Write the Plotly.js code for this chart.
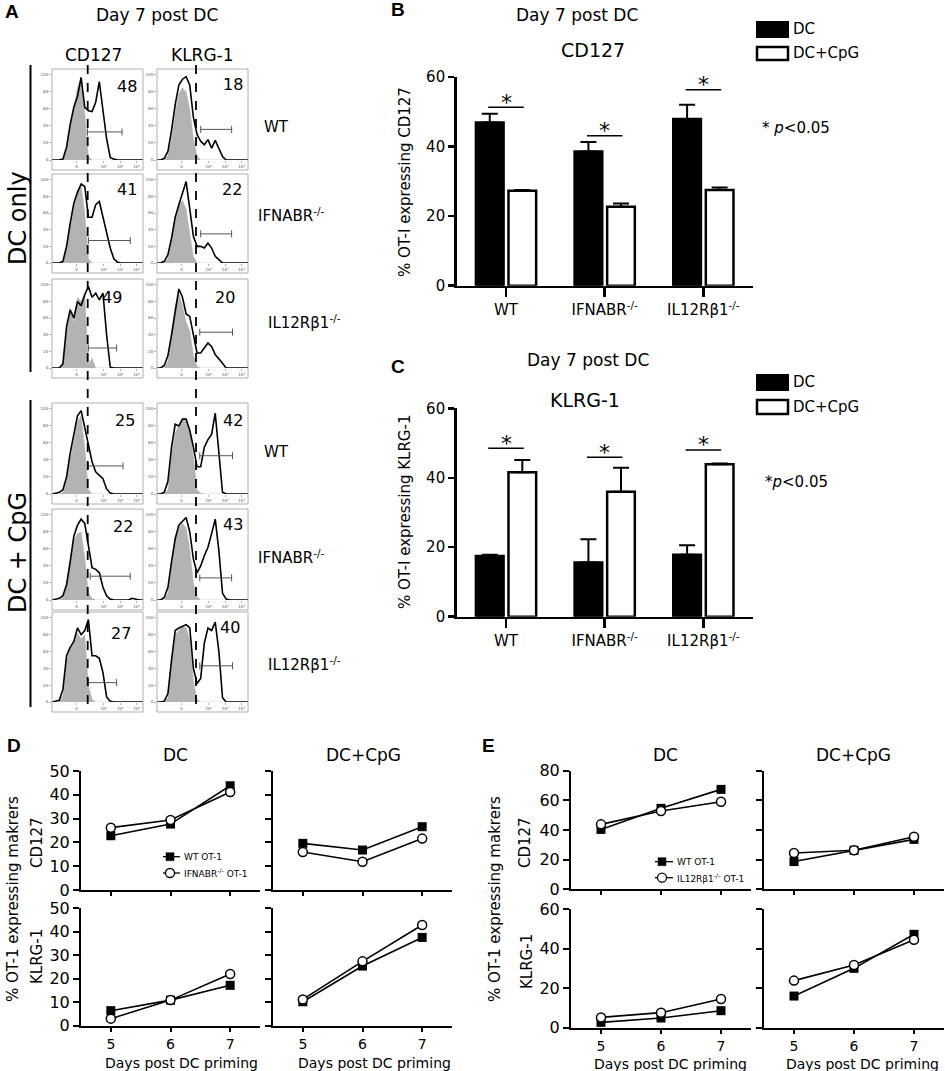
<!DOCTYPE html>
<html>
<head>
<meta charset="utf-8">
<script src="https://cdn.plot.ly/plotly-3.0.1.min.js"></script>
<style>
  html, body { margin: 0; padding: 0; background: #fff; }
  #fig { width: 945px; height: 1071px; }
</style>
</head>
<body>
<div id="fig"></div>
<script>
/* ---------- data ---------- */

// panel A: histogram channel positions (0-100 across each box)
var chan = [0,4,8,12,16,20,24,28,32,36,40,44,48,52,56,60,64,68,72,76,80,84,88,92,96,100];

// DC only (black = stained, grey = control)
var dcWtCd127      = [0,0,0,1,15,42,62,75,97,62,58,57,68,92,60,25,3,1,0,0,0,0,0,0,0,0];
var dcWtCd127Ctl   = [0,0,0,1,16,40,60,85,97,55,4,0,0,0,0,0,0,0,0,0,0,0,0,0,0,0];
var dcWtKlrg       = [0,0,2,10,35,65,88,95,98,88,50,30,22,18,24,14,23,14,4,0,0,0,0,0,0,0];
var dcWtKlrgCtl    = [0,0,0,5,25,55,78,85,80,60,25,5,0,0,0,0,0,0,0,0,0,0,0,0,0,0];
var dcIfnCd127     = [0,0,0,2,20,48,72,85,95,92,55,55,70,74,55,35,18,5,1,0,0,0,0,0,0,0];
var dcIfnCd127Ctl  = [0,0,0,2,20,45,70,88,93,60,5,0,0,0,0,0,0,0,0,0,0,0,0,0,0,0];
var dcIfnKlrg      = [0,0,2,10,30,55,70,85,98,65,32,20,20,18,24,18,8,4,0,0,0,0,0,0,0,0];
var dcIfnKlrgCtl   = [0,0,0,5,25,50,70,75,65,35,8,0,0,0,0,0,0,0,0,0,0,0,0,0,0,0];
var dcIl12Cd127    = [0,0,0,5,50,70,60,80,75,88,98,85,90,82,90,40,1,0,0,0,0,0,0,0,0,0];
var dcIl12Cd127Ctl = [0,0,0,5,45,70,55,85,80,90,4,12,0,0,0,0,0,0,0,0,0,0,0,0,0,0];
var dcIl12Klrg     = [0,0,3,15,40,70,95,85,65,62,40,18,18,24,30,26,16,11,5,0,0,0,0,0,0,0];
var dcIl12KlrgCtl  = [0,0,0,8,40,75,90,75,55,45,15,2,0,0,0,0,0,0,0,0,0,0,0,0,0,0];

// DC + CpG
var cpgWtCd127      = [0,1,2,5,20,48,68,92,98,78,62,38,26,22,18,6,1,0,0,0,0,0,0,0,0,0];
var cpgWtCd127Ctl   = [0,0,0,2,15,40,62,85,92,55,5,0,0,0,0,0,0,0,0,0,0,0,0,0,0,0];
var cpgWtKlrg       = [0,0,2,15,55,82,80,88,88,75,55,32,32,55,64,70,95,45,2,0,0,0,0,0,0,0];
var cpgWtKlrgCtl    = [0,0,0,5,45,72,80,88,85,75,45,5,1,0,0,0,0,0,0,0,0,0,0,0,0,0];
var cpgIfnCd127     = [0,1,2,5,18,45,75,88,95,90,62,38,36,32,15,5,1,0,0,0,0,0,2,1,0,0];
var cpgIfnCd127Ctl  = [0,0,0,3,20,45,70,78,80,50,8,2,0,0,0,0,0,0,0,0,0,0,0,0,0,0];
var cpgIfnKlrg      = [0,0,3,15,45,72,88,92,97,80,48,32,40,52,62,78,95,58,8,1,0,0,0,0,0,0];
var cpgIfnKlrgCtl   = [0,0,0,8,45,75,85,90,85,60,20,4,0,0,0,0,0,0,0,0,0,0,0,0,0,0];
var cpgIl12Cd127    = [0,1,2,15,55,65,72,88,80,85,98,55,55,52,35,6,1,0,0,0,0,0,0,0,0,0];
var cpgIl12Cd127Ctl = [0,0,0,8,50,62,70,82,75,80,20,3,0,0,0,0,0,0,0,0,0,0,0,0,0,0];
var cpgIl12Klrg     = [0,0,1,10,50,85,88,90,92,88,40,22,28,70,88,85,95,60,5,0,0,0,0,0,0,0];
var cpgIl12KlrgCtl  = [0,0,0,5,45,80,85,90,88,75,25,3,0,0,0,0,0,0,0,0,0,0,0,0,0,0];

// gates and their percentages (row by row, CD127 then KLRG-1)
var gateStart = [39,48,40,48,40,47,40,47,42,47,40,47];
var gateEnd   = [77,82,86,82,71,83,78,83,86,82,71,83];
var gateLevel = [33,36,27,35,24,43,33,45,28,26,23,43];
var gatePct   = ['48','18','41','22','49','20','25','42','22','43','27','40'];

// panels B and C
var strains = ['WT', 'IFNABR<sup>-/-</sup>', 'IL12Rβ1<sup>-/-</sup>'];
var cd127Dc     = [46.9, 38.6, 47.9];
var cd127DcErr  = [2.5, 2.7, 4.1];
var cd127Cpg    = [27.3, 22.7, 27.5];
var cd127CpgErr = [0.2, 0.9, 0.7];
var klrgDc      = [17.5, 15.6, 17.8];
var klrgDcErr   = [0.3, 6.7, 2.8];
var klrgCpg     = [41.6, 36.0, 43.9];
var klrgCpgErr  = [3.5, 6.9, 0.2];

// panels D and E
var days = [5, 6, 7];
var dDcCd127Wt   = [22.8, 27.7, 43.8];
var dDcCd127Ko   = [26.2, 29.4, 41.2];
var dCpgCd127Wt  = [19.6, 16.8, 26.6];
var dCpgCd127Ko  = [16.0, 11.9, 21.6];
var dDcKlrgWt    = [6.4, 10.9, 17.2];
var dDcKlrgKo    = [3.0, 10.9, 22.0];
var dCpgKlrgWt   = [10.2, 25.4, 37.6];
var dCpgKlrgKo   = [11.2, 27.4, 42.9];

var eDcCd127Wt   = [40.4, 54.6, 67.4];
var eDcCd127Ko   = [43.8, 52.8, 59.1];
var eCpgCd127Wt  = [18.7, 26.3, 33.7];
var eCpgCd127Ko  = [24.5, 26.3, 35.5];
var eDcKlrgWt    = [2.7, 4.9, 8.6];
var eDcKlrgKo    = [5.2, 7.6, 14.5];
var eCpgKlrgWt   = [16.0, 30.0, 47.2];
var eCpgKlrgKo   = [23.8, 31.7, 44.4];

/* ---------- helpers ---------- */
var W = 945, H = 1071;
function px(x) { return x / W; }
function py(y) { return 1 - y / H; }
function ax(n) { return n === 1 ? '' : String(n); }

var FONT = 'DejaVu Sans';
var data = [];
var layout = {
  width: W, height: H, autosize: false,
  margin: {l: 0, r: 0, t: 0, b: 0},
  paper_bgcolor: '#fff', plot_bgcolor: '#fff',
  showlegend: false,
  barmode: 'group', bargap: 0.34, bargroupgap: 0.15,
  font: {family: FONT, color: '#000'},
  shapes: [], annotations: []
};

// text placed by its centre, in picture pixels
function note(text, x, y, size, extra) {
  var a = {text: text, x: px(x), y: py(y), xref: 'paper', yref: 'paper',
           xanchor: 'center', yanchor: 'middle', showarrow: false,
           font: {family: FONT, size: size, color: '#000'}};
  for (var k in extra) a[k] = extra[k];
  layout.annotations.push(a);
}
function pline(x0, y0, x1, y1, w, dash) {
  layout.shapes.push({type: 'line', xref: 'paper', yref: 'paper',
    x0: px(x0), y0: py(y0), x1: px(x1), y1: py(y1),
    line: {color: '#000', width: w, dash: dash || 'solid'}});
}
function prect(x0, y0, x1, y1, fill, w, col) {
  layout.shapes.push({type: 'rect', xref: 'paper', yref: 'paper',
    x0: px(x0), y0: py(y0), x1: px(x1), y1: py(y1),
    fillcolor: fill, line: {color: col || '#000', width: w}});
}
function letter(t, x, y) {
  note('<b>' + t + '</b>', x, y, 19, {font: {family: 'Liberation Sans', size: 19, color: '#000'}});
}

/* ---------- panel A ---------- */
var hists = [
  [dcWtCd127, dcWtCd127Ctl], [dcWtKlrg, dcWtKlrgCtl],
  [dcIfnCd127, dcIfnCd127Ctl], [dcIfnKlrg, dcIfnKlrgCtl],
  [dcIl12Cd127, dcIl12Cd127Ctl], [dcIl12Klrg, dcIl12KlrgCtl],
  [cpgWtCd127, cpgWtCd127Ctl], [cpgWtKlrg, cpgWtKlrgCtl],
  [cpgIfnCd127, cpgIfnCd127Ctl], [cpgIfnKlrg, cpgIfnKlrgCtl],
  [cpgIl12Cd127, cpgIl12Cd127Ctl], [cpgIl12Klrg, cpgIl12KlrgCtl]
];
var rowBase = [160, 263, 368, 494, 600, 702];
var rowTop  = [69, 174, 279, 403, 509, 612];
var colLeft = [52, 157], colRight = [143, 248];
var pctX = [82, 83, 82, 82, 66, 75, 80, 84, 78, 83, 76, 80];
var pctY = [87, 89, 88, 88, 85, 85, 87, 87, 86, 89, 82, 88];

hists.forEach(function (h, k) {
  var n = k + 1, r = Math.floor(k / 2), c = k % 2;
  var xa = 'x' + ax(n), ya = 'y' + ax(n);
  layout['xaxis' + ax(n)] = {
    domain: [px(colLeft[c]), px(colRight[c])], range: [0, 100], anchor: ya,
    showgrid: false, zeroline: false, showline: false, fixedrange: true,
    ticks: 'outside', ticklen: 2, tickwidth: 0.6, tickcolor: '#777',
    tickvals: [27, 57, 75, 93], ticktext: ['0', '10³', '10⁴', '10⁵'],
    tickfont: {size: 4, color: '#555'}
  };
  layout['yaxis' + ax(n)] = {
    domain: [py(rowBase[r]), py(rowTop[r])], range: [0, 107], anchor: xa,
    showgrid: false, zeroline: false, showline: false, fixedrange: true,
    ticks: 'outside', ticklen: 2, tickwidth: 0.6, tickcolor: '#777',
    tickvals: [0, 20, 40, 60, 80, 100], tickfont: {size: 4, color: '#555'}
  };
  data.push({x: chan, y: h[1], xaxis: xa, yaxis: ya, mode: 'lines',
    fill: 'tozeroy', fillcolor: '#b3b3b3', line: {color: '#b3b3b3', width: 0.5}});
  data.push({x: chan, y: h[0], xaxis: xa, yaxis: ya, mode: 'lines',
    line: {color: '#000', width: 1.6}});
  data.push({x: [gateStart[k], gateEnd[k]], y: [gateLevel[k], gateLevel[k]],
    xaxis: xa, yaxis: ya, mode: 'lines+markers',
    line: {color: '#555', width: 1},
    marker: {symbol: 'line-ns-open', size: 5, line: {color: '#555', width: 1}}});
  layout.annotations.push({text: gatePct[k], x: pctX[k], y: pctY[k], xref: xa, yref: ya,
    xanchor: 'center', yanchor: 'middle',
    showarrow: false, font: {family: FONT, size: 16, color: '#000'}});
  prect(colLeft[c], rowTop[r], colRight[c], rowBase[r] + 10, 'rgba(0,0,0,0)', 0.8, '#999');
});

letter('A', 12, 12);
note('Day 7 post DC', 157, 15, 17);
note('CD127', 93, 55, 17);
note('KLRG-1', 202, 55, 17);
note('DC only', 18, 218, 24, {textangle: -90});
note('DC + CpG', 18, 553, 24, {textangle: -90});
pline(30.5, 65, 30.5, 372, 2);
pline(30.5, 400, 30.5, 707, 2);
pline(87.7, 65, 87.7, 707, 1.8, 'dash');
pline(196, 65, 196, 707, 1.8, 'dash');
var rowNames = ['WT', 'IFNABR<sup>-/-</sup>', 'IL12Rβ1<sup>-/-</sup>'];
var rowNameX = [262, 256, 266];
var rowNameY = [127, 215, 322, 452, 557, 664];
rowNameY.forEach(function (y, i) {
  note(rowNames[i % 3], rowNameX[i % 3], y, 15, {xanchor: 'left'});
});

/* ---------- panels B and C ---------- */
function barPanel(n, top, base, dc, dcErr, cpg, cpgErr, sigY) {
  var xa = 'x' + n, ya = 'y' + n;
  layout['xaxis' + n] = {
    domain: [px(456.7), px(752.7)], range: [-0.5, 2.5], anchor: ya, type: 'category',
    showline: true, linewidth: 2.5, linecolor: '#000', showgrid: false, zeroline: false,
    ticks: 'outside', ticklen: 9, tickwidth: 2.5, tickcolor: '#000',
    tickfont: {family: FONT, size: 15}, fixedrange: true
  };
  layout['yaxis' + n] = {
    domain: [py(base), py(top)], range: [0, 60], anchor: xa, tickvals: [0, 20, 40, 60],
    showline: true, linewidth: 2.5, linecolor: '#000', showgrid: false, zeroline: false,
    ticks: 'outside', ticklen: 6, tickwidth: 2.5, tickcolor: '#000',
    tickfont: {family: FONT, size: 15}, fixedrange: true
  };
  var zeros = [0, 0, 0];
  data.push({type: 'bar', x: strains, y: dc, xaxis: xa, yaxis: ya,
    marker: {color: '#000', line: {color: '#000', width: 2.5}},
    error_y: {type: 'data', symmetric: false, array: dcErr, arrayminus: zeros,
              color: '#000', thickness: 2, width: 8}});
  data.push({type: 'bar', x: strains, y: cpg, xaxis: xa, yaxis: ya,
    marker: {color: '#fff', line: {color: '#000', width: 2.5}},
    error_y: {type: 'data', symmetric: false, array: cpgErr, arrayminus: zeros,
              color: '#000', thickness: 2, width: 8}});
  sigY.forEach(function (y, i) {
    layout.shapes.push({type: 'line', xref: xa, yref: ya, x0: i - 0.18, x1: i + 0.18,
      y0: y, y1: y, line: {color: '#000', width: 1.5}});
    layout.annotations.push({text: '*', x: i, y: y, xref: xa, yref: ya, showarrow: false,
      xanchor: 'center', yanchor: 'middle', yshift: 5,
      font: {family: FONT, size: 22, color: '#000'}});
  });
}
barPanel(13, 77, 285.7, cd127Dc, cd127DcErr, cd127Cpg, cd127CpgErr, [51.3, 43.1, 56.3]);
barPanel(14, 408.3, 616.7, klrgDc, klrgDcErr, klrgCpg, klrgCpgErr, [48.5, 45.9, 48.0]);

letter('B', 398, 10);
note('Day 7 post DC', 577, 15, 17);
note('CD127', 593, 50, 19);
note('% OT-I expressing CD127', 405, 182, 15, {textangle: -90});
prect(757, 22, 788, 37, '#000', 2);
prect(757, 47, 788, 60, '#fff', 2.5);
note('DC', 791, 29, 15, {xanchor: 'left'});
note('DC+CpG', 791, 53, 15, {xanchor: 'left'});
note('* <i>p</i>&lt;0.05', 760, 128, 15, {xanchor: 'left'});

letter('C', 398, 366);
note('Day 7 post DC', 588, 360, 17);
note('KLRG-1', 585, 400, 19);
note('% OT-I expressing KLRG-1', 405, 512, 15, {textangle: -90});
prect(757, 375, 788, 390, '#000', 2);
prect(757, 400, 788, 414, '#fff', 2.5);
note('DC', 791, 382, 15, {xanchor: 'left'});
note('DC+CpG', 791, 407, 15, {xanchor: 'left'});
note('*<i>p</i>&lt;0.05', 763, 482, 15, {xanchor: 'left'});

/* ---------- panels D and E ---------- */
function linePanel(n, xl, xr, base, top, yMax, dtick, showX, showY, wt, ko) {
  var xa = 'x' + n, ya = 'y' + n;
  layout['xaxis' + n] = {
    domain: [px(xl), px(xr)], range: [4.5, 7.5], anchor: ya, tickvals: days,
    showticklabels: showX, showline: true, linewidth: 2, linecolor: '#000',
    showgrid: false, zeroline: false, ticks: 'outside', ticklen: 4, tickwidth: 2,
    tickcolor: '#000', tickfont: {family: FONT, size: 14}, fixedrange: true
  };
  layout['yaxis' + n] = {
    domain: [py(base), py(top)], range: [0, yMax], anchor: xa, dtick: dtick,
    showticklabels: showY, showline: true, linewidth: 2, linecolor: '#000',
    showgrid: false, zeroline: false, ticks: 'outside', ticklen: 6, tickwidth: 2,
    tickcolor: '#000', tickfont: {family: FONT, size: 16}, fixedrange: true
  };
  data.push({x: days, y: wt, xaxis: xa, yaxis: ya, mode: 'lines+markers', cliponaxis: false,
    line: {color: '#000', width: 1.6},
    marker: {symbol: 'square', size: 9, color: '#000'}});
  data.push({x: days, y: ko, xaxis: xa, yaxis: ya, mode: 'lines+markers', cliponaxis: false,
    line: {color: '#000', width: 1.6},
    marker: {symbol: 'circle', size: 9, color: '#fff', line: {color: '#000', width: 1.5}}});
}
linePanel(15, 81, 260, 890, 771, 50, 10, false, true, dDcCd127Wt, dDcCd127Ko);
linePanel(16, 273, 452, 890, 771, 50, 10, false, false, dCpgCd127Wt, dCpgCd127Ko);
linePanel(17, 81, 260, 1025.7, 908.3, 50, 10, true, true, dDcKlrgWt, dDcKlrgKo);
linePanel(18, 273, 452, 1025.7, 908.3, 50, 10, true, false, dCpgKlrgWt, dCpgKlrgKo);
linePanel(19, 571, 751, 889.3, 770.7, 80, 20, false, true, eDcCd127Wt, eDcCd127Ko);
linePanel(20, 764, 944, 889.3, 770.7, 80, 20, false, false, eCpgCd127Wt, eCpgCd127Ko);
linePanel(21, 571, 751, 1027.7, 909, 60, 20, true, true, eDcKlrgWt, eDcKlrgKo);
linePanel(22, 764, 944, 1027.7, 909, 60, 20, true, false, eCpgKlrgWt, eCpgKlrgKo);

function miniLegend(x0, x1, mx, y1, y2, koName) {
  pline(x0, y1, x1, y1, 1.3);
  prect(mx - 4, y1 - 4, mx + 4, y1 + 4, '#000', 0.5);
  pline(x0, y2, x1, y2, 1.3);
  layout.shapes.push({type: 'circle', xref: 'paper', yref: 'paper',
    x0: px(mx - 4.5), x1: px(mx + 4.5), y0: py(y2 + 4.5), y1: py(y2 - 4.5),
    fillcolor: '#fff', line: {color: '#000', width: 1.3}});
  note('WT OT-1', x1 + 2, y1, 9, {xanchor: 'left'});
  note(koName + ' OT-1', x1 + 2, y2, 9, {xanchor: 'left'});
}

letter('D', 14, 745);
note('DC', 175, 755, 17);
note('DC+CpG', 363, 755, 17);
note('% OT-1 expressing makrers', 13, 899, 15, {textangle: -90});
note('CD127', 37, 843, 15, {textangle: -90});
note('KLRG-1', 37, 957, 15, {textangle: -90});
note('Days post DC priming', 181, 1063, 14);
note('Days post DC priming', 374, 1063, 14);
miniLegend(163, 180, 170, 856.7, 873, 'IFNABR<sup>-/-</sup>');

letter('E', 488, 745);
note('DC', 665, 755, 17);
note('DC+CpG', 853, 755, 17);
note('% OT-1 expressing makrers', 495, 899, 15, {textangle: -90});
note('CD127', 525, 843, 15, {textangle: -90});
note('KLRG-1', 527, 962, 15, {textangle: -90});
note('Days post DC priming', 670, 1063.5, 14);
note('Days post DC priming', 862, 1063.5, 14);
miniLegend(655, 673, 662, 861.7, 877.7, 'IL12Rβ1<sup>-/-</sup>');

Plotly.newPlot('fig', data, layout, {displayModeBar: false, staticPlot: true});
</script>
</body>
</html>
